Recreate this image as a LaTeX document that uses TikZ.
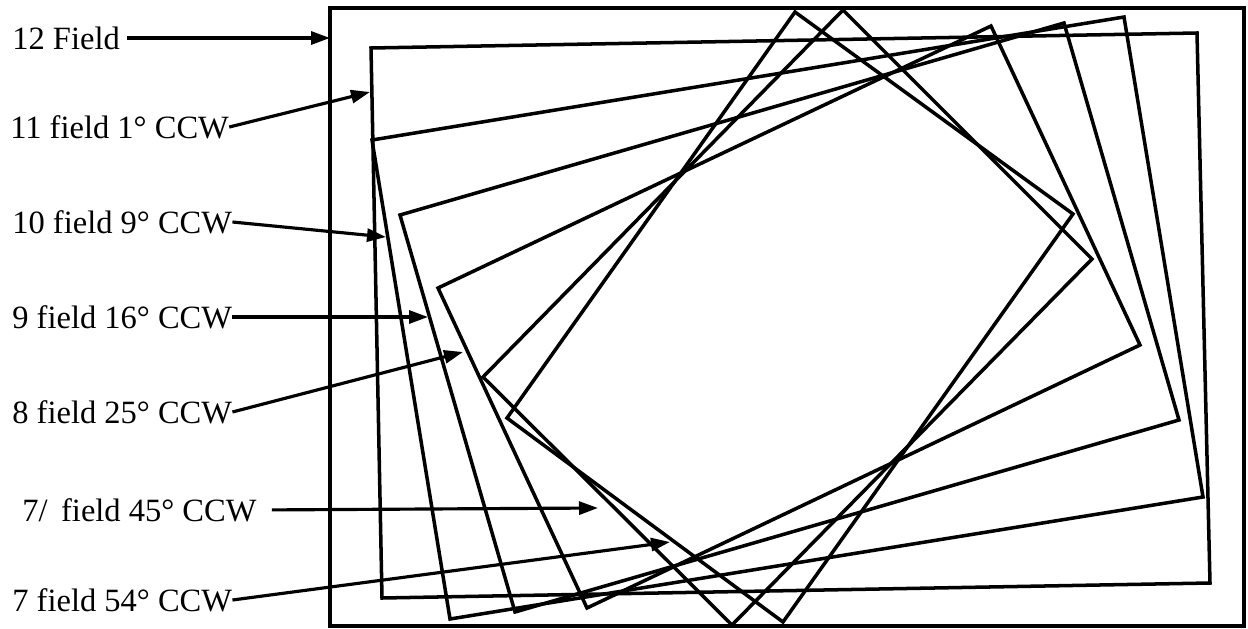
\documentclass[tikz,border=0pt]{standalone}
\usepackage{fontspec}
\setmainfont{Liberation Serif}
\usetikzlibrary{arrows.meta}
\begin{document}
\begin{tikzpicture}[x=0.02cm,y=-0.02cm,
  field/.style={line width=2pt, line join=miter},
  lbl/.style={anchor=west, inner sep=0pt, font=\fontsize{18.5}{20}\selectfont},
  pointer/.style={line width=1.8pt, -{Triangle[length=0.38cm,width=0.26cm]}}]
\useasboundingbox (0,0) rectangle (1248,629);
\fill[white] (0,0) rectangle (1248,629);
% 12 field
\draw[field] (330,8) rectangle (1244,626);
% 11 field 1 deg
\draw[field] (371,48) -- (1197,33) -- (1210,583) -- (382,598) -- cycle;
% 10 field 9 deg
\draw[field] (372,140) -- (1124,17) -- (1203,497) -- (450,619) -- cycle;
% 9 field 16 deg
\draw[field] (400,215) -- (1064,23) -- (1179,420) -- (515,612) -- cycle;
% 8 field 25 deg
\draw[field] (438,288) -- (991,26) -- (1140,345) -- (587,608) -- cycle;
% 7.5 field 45 deg
\draw[field] (483,377) -- (843,10) -- (1092,259) -- (732,625) -- cycle;
% 7 field 54 deg
\draw[field] (507,418) -- (795,12) -- (1073,214) -- (783,622) -- cycle;

% labels
\node[lbl] (l12) at (12,38) {12 Field};
\node[lbl] (l11) at (10,127) {11 field 1° CCW};
\node[lbl] (l10) at (12,222) {10 field 9° CCW};
\node[lbl] (l9)  at (12,317) {9 field 16° CCW};
\node[lbl] (l8)  at (12,412) {8 field 25° CCW};
\node[lbl] (l75) at (22,510) {7/\, field 45° CCW};
\node[lbl] (l7)  at (12,600) {7 field 54° CCW};

% arrow tips
\coordinate (t12) at (330,38);
\coordinate (t11) at (370,92);
\coordinate (t10) at (386,237);
\coordinate (t9)  at (428,317);
\coordinate (t8)  at (463,352);
\coordinate (t75) at (598,508);
\coordinate (t7)  at (670,542);

\draw[pointer, shorten <=0.14cm] (l12.east) -- (t12);
\draw[pointer] (l11.east) -- (t11);
\draw[pointer] (l10.east) -- (t10);
\draw[pointer] (l9.east) -- (t9);
\draw[pointer] (l8.east) -- (t8);
\draw[pointer, shorten <=0.3cm] (l75.east) -- (t75);
\draw[pointer] (l7.east) -- (t7);
\end{tikzpicture}
\end{document}
